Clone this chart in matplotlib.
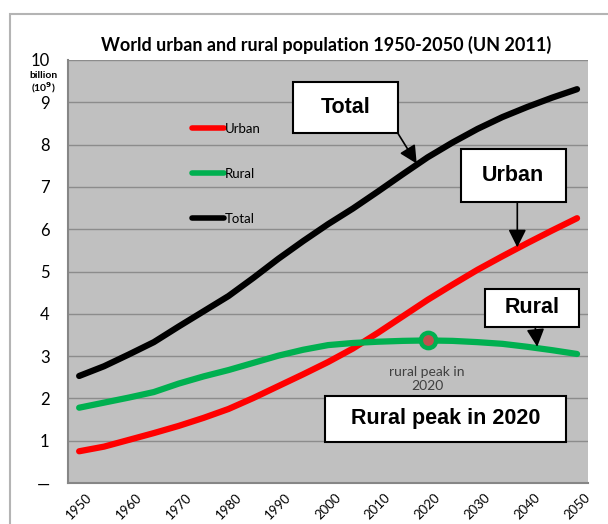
import matplotlib
matplotlib.use("Agg")
import matplotlib.pyplot as plt
from matplotlib.patches import Rectangle

# data (billions), every 5 years
years = [1950, 1955, 1960, 1965, 1970, 1975, 1980, 1985, 1990, 1995, 2000,
         2005, 2010, 2015, 2020, 2025, 2030, 2035, 2040, 2045, 2050]
urban = [0.75, 0.86, 1.02, 1.18, 1.35, 1.54, 1.75, 2.01, 2.29, 2.57, 2.86,
         3.18, 3.55, 3.94, 4.33, 4.69, 5.04, 5.36, 5.67, 5.97, 6.26]
rural = [1.78, 1.90, 2.02, 2.15, 2.35, 2.52, 2.67, 2.84, 3.01, 3.15, 3.26,
         3.31, 3.34, 3.36, 3.37, 3.36, 3.33, 3.29, 3.22, 3.14, 3.05]
total = [2.53, 2.76, 3.04, 3.33, 3.70, 4.06, 4.42, 4.85, 5.30, 5.72, 6.12,
         6.49, 6.89, 7.30, 7.70, 8.05, 8.37, 8.65, 8.89, 9.11, 9.31]
peak_year = 2020
peak_value = 3.37

xtick_years = list(range(1950, 2051, 10))
ytick_vals = list(range(0, 11))
ytick_labels = ["\u2014"] + [str(v) for v in range(1, 11)]

W, H = 608, 524
fig = plt.figure(figsize=(W / 100, H / 100), dpi=100)

# outer chart frame (cropped at right/bottom)
fig.patches.append(Rectangle((10 / W, -0.1), 1.2, (H - 14) / H + 0.1,
                             transform=fig.transFigure, fill=False,
                             edgecolor="#b4b4b4", linewidth=1.5))

ax = fig.add_axes([67.7 / W, (H - 483) / H, (588 - 67.7) / W, (483 - 60) / H])
ax.set_facecolor("#c0c0c0")

ax.plot(years, urban, color="#ff0000", lw=4.5, solid_capstyle="round", label="Urban", zorder=3)
ax.plot(years, rural, color="#00b050", lw=4.5, solid_capstyle="round", label="Rural", zorder=3)
ax.plot(years, total, color="black", lw=4.5, solid_capstyle="round", label="Total", zorder=3)
ax.plot([peak_year], [peak_value], "o", ms=11, mfc="#c0504d", mec="#00b050", mew=3.2, zorder=4)

ax.set_xlim(1947.7, 2052.2)
ax.set_ylim(0, 10)
ax.set_yticks(ytick_vals)
ax.set_yticklabels(ytick_labels, fontsize=12, family="Lato")
ax.set_xticks(xtick_years)
ax.set_xticklabels([str(y) for y in xtick_years], rotation=45, fontsize=9.5,
                   family="Lato", ha="center")
ax.tick_params(axis="both", length=0)
ax.tick_params(axis="y", pad=13)
ax.tick_params(axis="x", pad=6)

ax.grid(axis="y", color="#8c8c8c", lw=1)
ax.set_axisbelow(True)
for s in ["top", "right"]:
    ax.spines[s].set_visible(False)
for s in ["left", "bottom"]:
    ax.spines[s].set_color("#868686")
    ax.spines[s].set_linewidth(1.5)

fig.text(326 / W, 1 - 45 / H, "World urban and rural population 1950-2050 (UN 2011)",
         ha="center", va="center", fontsize=13, fontweight="bold", family="Lato")
fig.text(43 / W, 1 - 75 / H, "billion", ha="center", va="center", fontsize=7.5,
         fontweight="bold", family="Lato")
fig.text(43 / W, 1 - 88 / H, "(10$^{\\mathbf{9}}$)", ha="center", va="center", fontsize=7.5,
         fontweight="bold", family="Lato")

leg = ax.legend(loc="upper left", bbox_to_anchor=(180 / W, 1 - 111 / H),
                bbox_transform=fig.transFigure, frameon=False,
                prop={"family": "Lato", "size": 9.5}, handlelength=2.45,
                handletextpad=0.05, labelspacing=2.5)
for ln in leg.get_lines():
    ln.set_linewidth(4)

# callout boxes (data coords)
def callout(x0, x1, y0, y1, text, start=None, tip=None):
    ax.add_patch(Rectangle((x0, y0), x1 - x0, y1 - y0, facecolor="white",
                           edgecolor="black", lw=1.5, zorder=5))
    ax.text((x0 + x1) / 2, (y0 + y1) / 2, text, ha="center", va="center",
            fontsize=15.5, fontweight="bold", family="Liberation Sans", zorder=6)
    if start is not None:
        ax.annotate("", xy=tip, xytext=start, zorder=6,
                    arrowprops=dict(arrowstyle="-|>,head_length=0.9,head_width=0.45",
                                    mutation_scale=12, color="black", lw=1.2,
                                    shrinkA=0, shrinkB=0))

callout(1992.9, 2014.0, 8.27, 9.49, "Total", (2014.0, 8.27), (2017.8, 7.55))
callout(2026.7, 2047.7, 6.64, 7.89, "Urban", (2038.0, 6.64), (2038.0, 5.57))
callout(2031.5, 2050.3, 3.69, 4.59, "Rural", (2041.6, 3.69), (2042.0, 3.22))
callout(1999.4, 2047.8, 0.97, 2.06, "Rural peak in 2020")

ax.text(2019.9, 2.47, "rural peak in\n2020", ha="center", va="center",
        fontsize=10, family="Lato", color="#404040", linespacing=1.2)

fig.savefig("out.png", dpi=100)
